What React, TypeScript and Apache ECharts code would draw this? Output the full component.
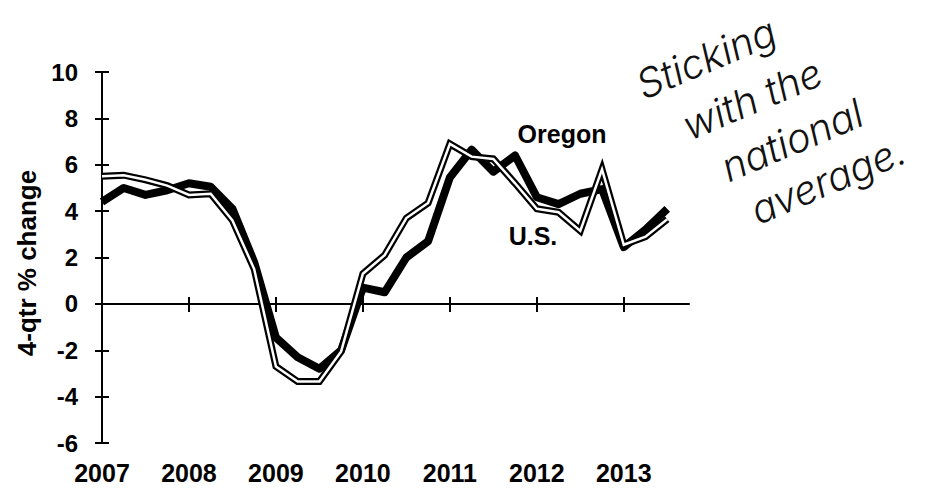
import React, { useEffect, useRef } from "react";
import * as echarts from "echarts";

const quarters = [
  "2007Q1", "2007Q2", "2007Q3", "2007Q4",
  "2008Q1", "2008Q2", "2008Q3", "2008Q4",
  "2009Q1", "2009Q2", "2009Q3", "2009Q4",
  "2010Q1", "2010Q2", "2010Q3", "2010Q4",
  "2011Q1", "2011Q2", "2011Q3", "2011Q4",
  "2012Q1", "2012Q2", "2012Q3", "2012Q4",
  "2013Q1", "2013Q2", "2013Q3", "2013Q4",
];

const oregon = [
  4.4, 5.0, 4.7, 4.9,
  5.2, 5.05, 4.1, 1.8,
  -1.45, -2.3, -2.8, -2.0,
  0.7, 0.5, 2.0, 2.7,
  5.45, 6.65, 5.7, 6.4,
  4.6, 4.3, 4.75, 4.95,
  2.45, 3.2, 4.1,
];

const usAvg = [
  5.5, 5.55, 5.35, 5.1,
  4.7, 4.75, 3.6, 1.5,
  -2.7, -3.35, -3.35, -2.05,
  1.3, 2.1, 3.7, 4.35,
  6.9, 6.35, 6.25, 5.2,
  4.1, 3.95, 3.15, 5.8,
  2.55, 2.9, 3.65,
];

const yMin = -6;
const yMax = 10;
const yStep = 2;

const seriesNames = ["Oregon", "U.S."];
const axisTitle = "4-qtr % change";
const noteLines = ["Sticking", "with the", "national", "average."];

export default function App() {
  const ref = useRef<HTMLDivElement>(null);

  useEffect(() => {
    const chart = echarts.init(ref.current!, null, { renderer: "svg" });
    const font = "'Liberation Sans', Arial, sans-serif";
    const black = "#000";
    const baseX: any = {
      type: "category",
      data: quarters,
      boundaryGap: false,
      position: "bottom",
      splitLine: { show: false },
    };
    const baseY: any = {
      type: "value",
      min: yMin,
      max: yMax,
      interval: yStep,
      position: "left",
      splitLine: { show: false },
    };
    const noteStyle = (text: string) => ({
      text,
      fill: "#111",
      fontSize: 40,
      fontWeight: 300,
      fontStyle: "italic",
      fontFamily: "Inter, 'Open Sans', sans-serif",
      align: "center",
      verticalAlign: "middle",
    });
    const notePos = [
      [706, 58],
      [752, 99],
      [792, 140],
      [828, 180],
    ];

    chart.setOption({
      animation: false,
      backgroundColor: "#fff",
      grid: {
        left: 102,
        top: 72,
        width: 587,
        height: 371,
        containLabel: false,
        outerBoundsMode: "none",
      },
      xAxis: [
        {
          ...baseX,
          axisLine: { show: true, onZero: true, lineStyle: { color: black, width: 2 } },
          axisTick: { show: true, interval: 3, length: 8, lineStyle: { color: black, width: 2 } },
          axisLabel: { show: false },
        },
        {
          ...baseX,
          axisLine: { show: false, onZero: true },
          axisTick: { show: true, inside: true, interval: 3, length: 7, lineStyle: { color: black, width: 2 } },
          axisLabel: { show: false },
        },
        {
          ...baseX,
          axisLine: { show: false, onZero: false },
          axisTick: { show: false },
          axisLabel: {
            show: true,
            interval: 3,
            margin: 17,
            fontSize: 25,
            fontWeight: "bold",
            color: black,
            fontFamily: font,
            formatter: (v: string) => v.slice(0, 4),
          },
        },
      ],
      yAxis: [
        {
          ...baseY,
          axisLine: { show: true, lineStyle: { color: black, width: 2 } },
          axisTick: { show: true, length: 7, lineStyle: { color: black, width: 2 } },
          axisLabel: {
            show: true,
            margin: 24,
            fontSize: 24,
            fontWeight: "bold",
            color: black,
            fontFamily: font,
          },
        },
        {
          ...baseY,
          axisLine: { show: false },
          axisTick: { show: true, inside: true, length: 7, lineStyle: { color: black, width: 2 } },
          axisLabel: { show: false },
        },
      ],
      series: [
        {
          type: "line",
          name: seriesNames[0],
          data: oregon,
          xAxisIndex: 0,
          yAxisIndex: 0,
          symbol: "none",
          lineStyle: { color: black, width: 8, join: "round", cap: "butt" },
          z: 3,
        },
        {
          type: "line",
          name: seriesNames[1],
          data: usAvg,
          xAxisIndex: 0,
          yAxisIndex: 0,
          symbol: "none",
          lineStyle: { color: black, width: 7, join: "miter" },
          z: 4,
        },
        {
          type: "line",
          name: seriesNames[1] + " inner",
          data: usAvg,
          xAxisIndex: 0,
          yAxisIndex: 0,
          symbol: "none",
          lineStyle: { color: "#fff", width: 2.5, join: "miter" },
          z: 5,
        },
      ],
      graphic: [
        {
          type: "text",
          x: 27,
          y: 263,
          rotation: Math.PI / 2,
          style: {
            text: axisTitle,
            fill: black,
            fontSize: 26,
            fontWeight: "bold",
            fontFamily: font,
            align: "center",
            verticalAlign: "middle",
          },
        },
        {
          type: "text",
          x: 562,
          y: 134,
          style: {
            text: seriesNames[0],
            fill: black,
            fontSize: 25,
            fontWeight: "bold",
            fontFamily: font,
            align: "center",
            verticalAlign: "middle",
          },
        },
        {
          type: "text",
          x: 533,
          y: 236,
          style: {
            text: seriesNames[1],
            fill: black,
            fontSize: 25,
            fontWeight: "bold",
            fontFamily: font,
            align: "center",
            verticalAlign: "middle",
          },
        },
        ...noteLines.map((t, i) => ({
          type: "text",
          x: notePos[i][0],
          y: notePos[i][1],
          rotation: 0.4,
          style: noteStyle(t),
        })),
      ],
    });

    return () => chart.dispose();
  }, []);

  return (
    <div
      ref={ref}
      style={{ position: "fixed", left: 0, top: 0, width: 926, height: 491, background: "#fff" }}
    />
  );
}
